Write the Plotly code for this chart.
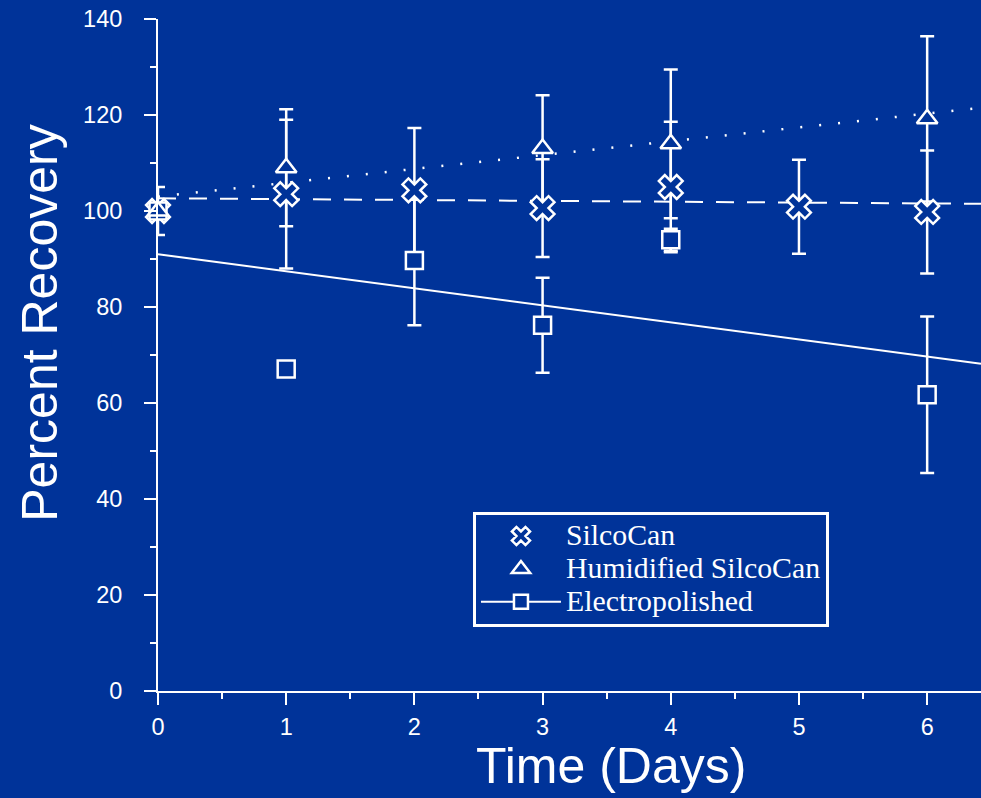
import plotly.graph_objects as go

# ---- data ----
silco_days = [0, 1, 2, 3, 4, 5, 6]
silco_vals = [100.0, 103.5, 104.3, 100.6, 105.0, 100.9, 99.8]
silco_err = [5.0, 15.5, 13.0, 10.2, 13.6, 9.8, 12.8]

humid_days = [0, 1, 3, 4, 6]
humid_vals = [100.0, 109.0, 113.0, 114.0, 119.2]
humid_err = [0.0, 12.2, 11.1, 15.5, 17.2]

electro_days = [0, 1, 2, 3, 4, 6]
electro_vals = [100.0, 67.1, 89.7, 76.2, 94.0, 61.7]
electro_err = [0.0, 0.0, 13.5, 9.9, 2.3, 16.3]

trend_days = [0, 6.42]
silco_trend = [102.65, 101.5]
humid_trend = [103.0, 121.5]
electro_trend = [91.0, 68.2]

BG = "#003399"
W = "white"
sans = "Liberation Sans, Arial, sans-serif"
serif = "Liberation Serif, Times New Roman, serif"


def big(name):
    return '<span style="font-size:29.8px">' + name + "</span>"


fig = go.Figure()

# trend lines (under everything)
fig.add_trace(go.Scatter(x=trend_days, y=silco_trend, mode="lines",
                         line=dict(color=W, width=2, dash="18px,13px"),
                         showlegend=False, hoverinfo="skip"))
fig.add_trace(go.Scatter(x=trend_days, y=humid_trend, mode="lines",
                         line=dict(color=W, width=2.5, dash="2px,17px"),
                         showlegend=False, hoverinfo="skip"))
fig.add_trace(go.Scatter(x=trend_days, y=electro_trend, mode="lines",
                         line=dict(color=W, width=2),
                         showlegend=False, hoverinfo="skip"))

# error bars (drawn beneath all markers)
for xs, ys, es in [(silco_days, silco_vals, silco_err),
                   (humid_days, humid_vals, humid_err),
                   (electro_days, electro_vals, electro_err)]:
    fig.add_trace(go.Scatter(
        x=xs, y=ys, mode="markers",
        marker=dict(size=1, color="rgba(0,0,0,0)"),
        error_y=dict(type="data", array=es, visible=True, color=W,
                     thickness=2.5, width=7),
        showlegend=False, hoverinfo="skip", cliponaxis=False))

# markers
fig.add_trace(go.Scatter(
    x=silco_days, y=silco_vals, mode="markers", name=big("SilcoCan"),
    marker=dict(symbol="x", size=21, color=BG, line=dict(color=W, width=2.5)),
    cliponaxis=False))
fig.add_trace(go.Scatter(
    x=electro_days, y=electro_vals, mode="markers", name="Electropolished",
    marker=dict(symbol="square", size=17, color=BG, line=dict(color=W, width=2.5)),
    showlegend=False, cliponaxis=False))
fig.add_trace(go.Scatter(
    x=humid_days, y=humid_vals, mode="markers", name=big("Humidified SilcoCan"),
    marker=dict(symbol="triangle-up", size=18, color=BG, line=dict(color=W, width=2.5)),
    cliponaxis=False))
# legend key for the electropolished series (line + square)
fig.add_trace(go.Scatter(
    x=[None], y=[None], mode="lines+markers", name=big("Electropolished"),
    line=dict(color=W, width=2),
    marker=dict(symbol="square", size=14, color=BG, line=dict(color=W, width=2.5))))

axis_common = dict(
    showline=True, linecolor=W, linewidth=2,
    ticks="outside", tickcolor=W, tickwidth=2, ticklen=12,
    showgrid=False, zeroline=False,
    tickfont=dict(family=sans, size=23.5, color=W),
)

fig.update_xaxes(range=[0, 6.42], tickmode="linear", tick0=0, dtick=1,
                 minor=dict(ticks="outside", tickcolor=W, tickwidth=2, ticklen=6,
                            dtick=0.5, tick0=0, showgrid=False),
                 ticklabelstandoff=2, **axis_common)
fig.update_yaxes(range=[0, 140], tickmode="linear", tick0=0, dtick=20,
                 minor=dict(ticks="outside", tickcolor=W, tickwidth=2, ticklen=6,
                            dtick=10, tick0=0, showgrid=False),
                 ticklabelstandoff=17, **axis_common)

fig.update_layout(
    width=981, height=798,
    paper_bgcolor=BG, plot_bgcolor=BG,
    margin=dict(l=158, r=0, t=19, b=107),
    legend=dict(x=0.3827, y=0.267, xanchor="left", yanchor="top",
                bgcolor=BG, bordercolor=W, borderwidth=3,
                font=dict(family=serif, size=23, color=W),
                itemwidth=80, tracegroupgap=0),
    annotations=[
        dict(text="Time (Days)", xref="paper", yref="paper",
             x=0.5504, y=-0.112, xanchor="center", yanchor="middle",
             showarrow=False, font=dict(family=sans, size=50, color=W)),
        dict(text="Percent Recovery", xref="paper", yref="paper",
             x=-0.143, y=0.547, xanchor="center", yanchor="middle",
             textangle=-90, showarrow=False,
             font=dict(family=sans, size=50, color=W)),
    ],
)

fig.write_html(
    "out.html",
    config={"displayModeBar": False},
    post_script="document.body.style.margin='0';document.body.style.overflow='hidden';",
)
